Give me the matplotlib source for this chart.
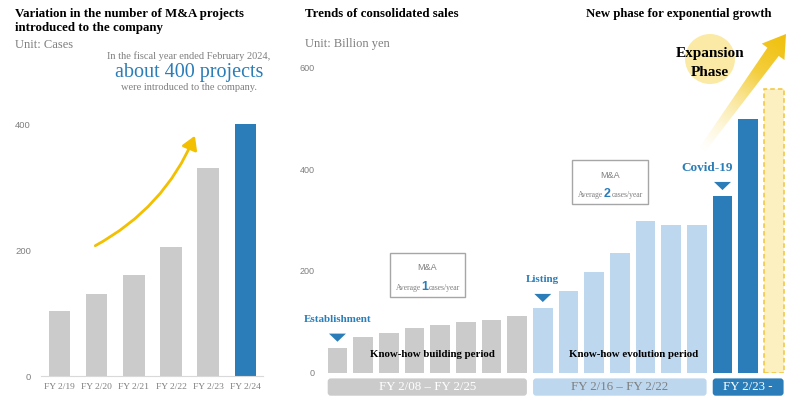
"""M&A projects and consolidated sales — two-panel summary chart"""

import matplotlib

matplotlib.use("Agg")
import matplotlib.pyplot as plt
import numpy as np
from matplotlib.patches import FancyArrowPatch, FancyBboxPatch, Polygon, Circle, Rectangle

# ---- data ----
project_years = ["FY 2/19", "FY 2/20", "FY 2/21", "FY 2/22", "FY 2/23", "FY 2/24"]
project_counts = [104, 130, 160, 205, 330, 400]

sales = [49, 70, 79, 88, 94, 100, 104, 112,
         127, 160, 198, 236, 298, 290, 290,
         347, 498, 558]
group_sizes = [8, 7, 2, 1]          # building / evolution / expansion / forecast
box_groups = [[0], [1], [2, 3]]     # which bar groups each period box covers
group_labels = ["FY 2/08 – FY 2/25", "FY 2/16 – FY 2/22", "FY 2/23 -"]
period_names = ["Know-how building period", "Know-how evolution period"]
events = {0: "Establishment", 8: "Listing", 15: "Covid-19"}
ma_average = [1, 2]

# ---- style ----
GRAY = "#cbcbcb"
LIGHT = "#bdd7ee"
BLUE = "#2a7db8"
PALE_Y = "#fcefc0"
TXT_GRAY = "#7f7f7f"
SERIF = ["Liberation Serif", "DejaVu Serif"]
SANS = ["Liberation Sans", "DejaVu Sans"]

W, H = 795, 399
fig = plt.figure(figsize=(W / 100, H / 100), dpi=100)


def frac(x0, y0, x1, y1):
    """pixel box (top-left origin) -> figure fraction rect"""
    return [x0 / W, 1 - y1 / H, (x1 - x0) / W, (y1 - y0) / H]


# ---- left: M&A projects ----
axl = fig.add_axes(frac(40.7, 99.2, 263, 376))
xs = np.arange(len(project_counts))
colors_l = [GRAY] * (len(project_counts) - 1) + [BLUE]
axl.bar(xs, project_counts, width=0.58, color=colors_l)
axl.set_xlim(-0.5, 5.47)
axl.set_ylim(0, 440)
axl.set_yticks([0, 200, 400])
axl.set_xticks(xs, project_years)
for s in ["top", "right", "left"]:
    axl.spines[s].set_visible(False)
axl.spines["bottom"].set_color("#d9d9d9")
axl.tick_params(length=0)
axl.tick_params(axis="y", pad=7, labelsize=6.8, labelcolor=TXT_GRAY)
axl.tick_params(axis="x", pad=5, labelsize=6.8, labelcolor=TXT_GRAY)
for lab in axl.get_yticklabels():
    lab.set_family(SANS)
for lab in axl.get_xticklabels():
    lab.set_family(SERIF)
axl.add_patch(FancyArrowPatch((0.9, 205), (3.67, 386), connectionstyle="arc3,rad=0.18",
                              arrowstyle="-|>,head_length=5,head_width=3", color="#f2c000",
                              lw=2, mutation_scale=1.6))

# ---- middle / right: consolidated sales ----
axs = fig.add_axes(frac(320, 41.95, 790, 372.8))
n = len(sales)
xb = np.arange(n)
bw = 0.76
grp = np.repeat(np.arange(len(group_sizes)), group_sizes)
fills = [GRAY, LIGHT, BLUE, PALE_Y]
for i in range(n):
    g = grp[i]
    if g == 3:
        axs.bar(xb[i], sales[i], width=bw, color=PALE_Y, edgecolor="#f3c53b",
                linestyle=(0, (3, 2)), linewidth=1.1)
    else:
        axs.bar(xb[i], sales[i], width=bw, color=fills[g])
axs.set_xlim(-0.68, 17.63)
axs.set_ylim(0, 650)
axs.set_yticks([0, 200, 400, 600])
axs.set_xticks([])
for s in axs.spines.values():
    s.set_visible(False)
axs.tick_params(length=0, pad=4, labelsize=6.5, labelcolor=TXT_GRAY)
for lab in axs.get_yticklabels():
    lab.set_family(SANS)

# period boxes under bars
box_fc = [GRAY, LIGHT, BLUE]
box_tc = ["white", TXT_GRAY, "white"]
for b, gs in enumerate(box_groups):
    idx = np.where(np.isin(grp, gs))[0]
    x0 = idx[0] - bw / 2
    x1 = idx[-1] + bw / 2
    axs.add_patch(FancyBboxPatch((x0, -45), x1 - x0, 34,
                                 boxstyle="round,pad=0,rounding_size=0.12",
                                 mutation_aspect=50, fc=box_fc[b], ec="none", clip_on=False))
    axs.text((x0 + x1) / 2, -28, group_labels[b], ha="center", va="center",
             fontsize=9.3, color=box_tc[b], family=SERIF)

# period names
axs.text(3.7, 35, period_names[0], ha="center", va="center", fontsize=7.8,
         fontweight="bold", family=SERIF)
axs.text(11.55, 35, period_names[1], ha="center", va="center", fontsize=7.8,
         fontweight="bold", family=SERIF)

# event markers
ev_shift = {0: 0.0, 8: 0.0, 15: -0.6}
ev_size = {0: 7.9, 8: 7.9, 15: 9.5}
for i, label in events.items():
    top = sales[i] + 12
    axs.add_patch(Polygon([[i - 0.33, top + 16], [i + 0.33, top + 16], [i, top]],
                          closed=True, fc=BLUE, ec="none"))
    axs.text(i + ev_shift[i], sales[i] + 56, label, ha="center", va="center",
             fontsize=ev_size[i], fontweight="bold", color=BLUE, family=SERIF)

# M&A average boxes
for (bx0, bx1, by0, by1), num in zip([(2.05, 4.97, 148, 236), (9.14, 12.1, 332, 418)],
                                     ma_average):
    axs.add_patch(Rectangle((bx0, by0), bx1 - bx0, by1 - by0, fc="white",
                            ec="#a6a6a6", lw=1))
    cx = (bx0 + bx1) / 2
    axs.text(cx, by1 - 30, "M&A", ha="center", va="center", fontsize=6.5,
             color=TXT_GRAY, family=SANS)
    ny = by0 + 20
    axs.text(cx - 0.12, ny, str(num), ha="center", va="center", fontsize=9,
             fontweight="bold", color=BLUE, family=SANS)
    axs.text(cx - 0.26, ny - 2, "Average", ha="right", va="center", fontsize=5.5,
             color=TXT_GRAY, family=SERIF)
    axs.text(cx + 0.06, ny - 2, "cases/year", ha="left", va="center", fontsize=5.5,
             color=TXT_GRAY, family=SERIF)

# ---- overlay in pixel coords: titles, notes, growth arrow ----
ov = fig.add_axes([0, 0, 1, 1])
ov.set_xlim(0, W)
ov.set_ylim(H, 0)
ov.axis("off")
ov.patch.set_visible(False)

ov.text(15, 14, "Variation in the number of M&A projects", fontsize=9.3, fontweight="bold",
        va="center", family=SERIF)
ov.text(15, 28, "introduced to the company", fontsize=9.3, fontweight="bold",
        va="center", family=SERIF)
ov.text(15, 45.5, "Unit: Cases", fontsize=9, color=TXT_GRAY, va="center", family=SERIF)
ov.text(189, 56, "In the fiscal year ended February 2024,", fontsize=7.5, color=TXT_GRAY,
        ha="center", va="center", family=SERIF)
ov.text(189, 72, "about 400 projects", fontsize=14.5, color=BLUE,
        ha="center", va="center", family=SERIF)
ov.text(189, 88, "were introduced to the company.", fontsize=7.5, color=TXT_GRAY,
        ha="center", va="center", family=SERIF)

ov.text(305, 14, "Trends of consolidated sales", fontsize=9.3, fontweight="bold",
        va="center", family=SERIF)
ov.text(305, 44, "Unit: Billion yen", fontsize=9, color=TXT_GRAY, va="center", family=SERIF)
ov.text(772, 14, "New phase for exponential growth", fontsize=9.2, fontweight="bold",
        ha="right", va="center", family=SERIF)

# expansion phase bubble
ov.add_patch(Circle((710, 59), 25, fc="#fbeaa6", ec="none"))
ov.text(710, 53, "Expansion", fontsize=11, fontweight="bold", ha="center", va="center",
        family=SERIF)
ov.text(710, 72, "Phase", fontsize=11, fontweight="bold", ha="center", va="center",
        family=SERIF)

# gradient growth arrow
p0 = np.array([702.0, 150.0])
tip = np.array([786.0, 34.0])
u = (tip - p0) / np.linalg.norm(tip - p0)
nv = np.array([-u[1], u[0]])
neck = tip - u * 22
pts = [p0 + nv * 3.5, neck + nv * 7, neck + nv * 14, tip,
       neck - nv * 14, neck - nv * 7, p0 - nv * 3.5]
arrow_poly = Polygon(pts, closed=True, fc="none", ec="none")
ov.add_patch(arrow_poly)
gx0, gx1, gy0, gy1 = 685, 795, 25, 160
gx, gy = np.meshgrid(np.linspace(gx0, gx1, 220), np.linspace(gy0, gy1, 270))
t = np.clip(((gx - p0[0]) * u[0] + (gy - p0[1]) * u[1]) / np.linalg.norm(tip - p0), 0, 1)
c0 = np.array([0.99, 0.93, 0.65])
c1 = np.array([0.94, 0.75, 0.04])
img = np.zeros(gx.shape + (4,))
for k in range(3):
    img[..., k] = c0[k] + (c1[k] - c0[k]) * t
img[..., 3] = np.clip(t * 1.5, 0, 1)
im = ov.imshow(img, extent=[gx0, gx1, gy1, gy0], origin="upper", aspect="auto",
               interpolation="bilinear")
im.set_clip_path(arrow_poly)
ov.set_xlim(0, W)
ov.set_ylim(H, 0)

fig.savefig("out.png", dpi=100)
